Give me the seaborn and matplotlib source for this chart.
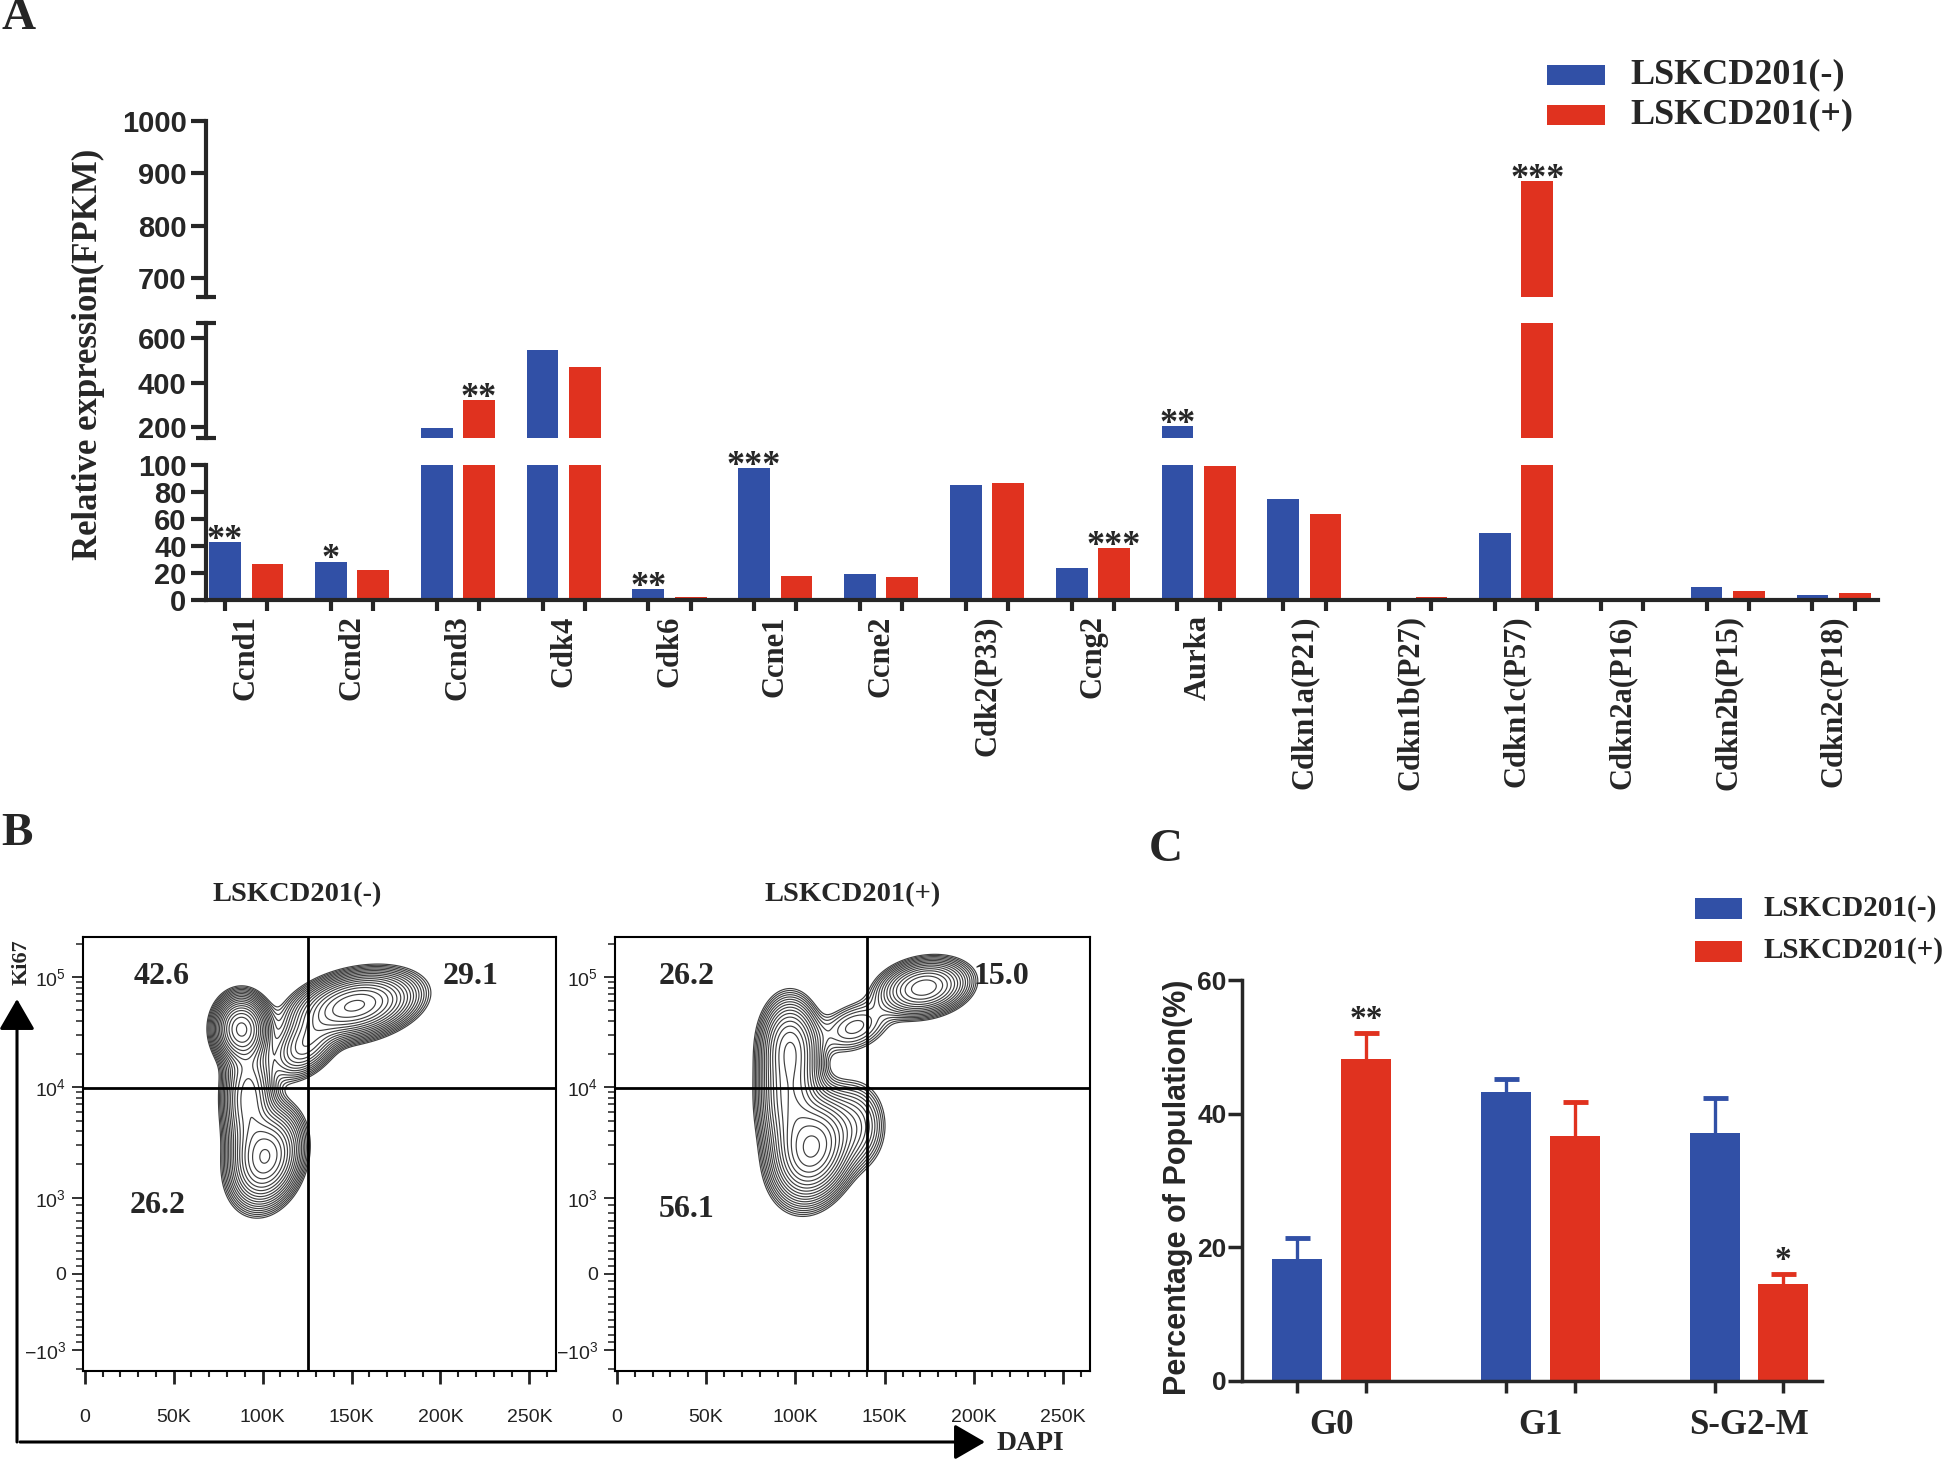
import numpy as np
import pandas as pd
import seaborn as sns
import matplotlib.pyplot as plt
from matplotlib.patches import Rectangle, ArrowStyle

W, H, DPI = 1946, 1459, 100
BLUE = "#3150A6"
RED = "#E0321F"
GROUPS = ["LSKCD201(-)", "LSKCD201(+)"]

# ---- panel A: relative expression (FPKM) ----
GENES = ["Ccnd1", "Ccnd2", "Ccnd3", "Cdk4", "Cdk6", "Ccne1", "Ccne2", "Cdk2(P33)",
         "Ccng2", "Aurka", "Cdkn1a(P21)", "Cdkn1b(P27)", "Cdkn1c(P57)",
         "Cdkn2a(P16)", "Cdkn2b(P15)", "Cdkn2c(P18)"]
FPKM_NEG = [43, 28.5, 193, 547, 8, 97.5, 19.5, 85, 23.5, 203, 74.5, 1.5, 50, 0.3, 10, 3.5]
FPKM_POS = [27, 22, 321, 472, 2, 17.5, 17, 86.5, 38.5, 99, 64, 2, 885, 0.6, 7, 5.5]
STAR_GENE = ["Ccnd1", "Ccnd2", "Ccnd3", "Cdk6", "Ccne1", "Ccng2", "Aurka", "Cdkn1c(P57)"]
STAR_GROUP = [0, 0, 1, 0, 0, 1, 0, 1]
STAR_TEXT = ["**", "*", "**", "**", "***", "***", "**", "***"]
# broken y axis: (low, high) of each segment, bottom to top
SEGMENTS = [(0, 100), (150.2, 668), (665, 1000)]
SEG_TICKS = [[0, 20, 40, 60, 80, 100], [200, 400, 600], [700, 800, 900, 1000]]

# ---- panel B: flow cytometry (DAPI vs Ki67) ----
QUAD_NEG = ["42.6", "29.1", "26.2"]
QUAD_POS = ["26.2", "15.0", "56.1"]
GATE_DAPI = [125.3, 140.0]      # K
GATE_KI67 = [9800, 9800]
# contour populations: centre DAPI (K), centre Ki67, spread DAPI (K), spread Ki67 (decades), tilt, weight
NEG_DAPI = [88, 152, 102, 92, 124]
NEG_KI67 = [34000, 55000, 2300, 8000, 24000]
NEG_SD_DAPI = [7.5, 17, 10, 7.5, 10]
NEG_SD_KI67 = [0.15, 0.15, 0.22, 0.30, 0.16]
NEG_TILT = [0.0, 0.3, 0.2, 0.0, 0.4]
NEG_WEIGHT = [1.0, 0.85, 0.8, 0.45, 0.3]

POS_DAPI = [172, 110, 97, 97, 133, 135]
POS_KI67 = [80000, 2800, 25000, 8000, 35000, 4500]
POS_SD_DAPI = [13, 11, 8.5, 9, 12, 9]
POS_SD_KI67 = [0.13, 0.24, 0.22, 0.30, 0.14, 0.22]
POS_TILT = [0.2, 0.2, 0.0, 0.0, 0.3, 0.0]
POS_WEIGHT = [0.55, 1.0, 0.45, 0.5, 0.12, 0.15]

DAPI_TICKS = [0, 50, 100, 150, 200, 250]
DAPI_LABELS = ["0", "50K", "100K", "150K", "200K", "250K"]
KI67_TICKS = [-1000, 0, 1000, 10000, 100000]
KI67_LABELS = [r"$-10^{3}$", "0", r"$10^{3}$", r"$10^{4}$", r"$10^{5}$"]

# ---- panel C: cell cycle phases ----
PHASES = ["G0", "G1", "S-G2-M"]
PCT_NEG = [18.3, 43.2, 37.1]
PCT_NEG_SEM = [3.1, 2.0, 5.2]
PCT_POS = [48.2, 36.7, 14.5]
PCT_POS_SEM = [3.8, 5.1, 1.5]
C_STAR_PHASE = ["G0", "S-G2-M"]
C_STAR_TEXT = ["**", "*"]

sns.set_style("ticks")
plt.rcParams["font.family"] = ["Liberation Sans", "DejaVu Sans"]
plt.rcParams["mathtext.default"] = "regular"
SERIF = ["Liberation Serif", "DejaVu Serif"]


def px_rect(x0, y0, x1, y1):
    return [x0 / W, 1 - y1 / H, (x1 - x0) / W, (y1 - y0) / H]


LIN = 0.69  # width of the linear part of the biexponential axis, in decades


def to_u(v):
    v = np.asarray(v, dtype=float)
    a = np.abs(v)
    out = np.where(a <= 1000, LIN * a / 1000, LIN + np.log10(np.maximum(a, 1e-9) / 1000))
    return np.sign(v) * out


fig = plt.figure(figsize=(W / DPI, H / DPI), dpi=DPI)

# ================= panel A =================
df_a = pd.DataFrame({
    "gene": GENES * 2,
    "group": [GROUPS[0]] * len(GENES) + [GROUPS[1]] * len(GENES),
    "fpkm": FPKM_NEG + FPKM_POS,
})
seg_px = [(465, 600), (323.3, 437.7), (120.7, 296.7)]
axes_a = []
for (lo, hi), (ytop, ybot), ticks in zip(SEGMENTS, seg_px, SEG_TICKS):
    ax = fig.add_axes(px_rect(206, ytop, 1878, ybot))
    sns.barplot(data=df_a, x="gene", y="fpkm", hue="group", hue_order=GROUPS,
                palette=[BLUE, RED], saturation=1, width=0.8, gap=0.25,
                errorbar=None, legend=False, linewidth=0, ax=ax)
    ax.set_xlim(-0.38, len(GENES) - 0.58)
    ax.set_ylim(lo, hi)
    ax.set_xlabel("")
    ax.set_ylabel("")
    ax.set_yticks(ticks)
    ax.set_yticks([t for t in (lo, hi) if t not in (0, 1000)], minor=True)
    ax.tick_params(axis="y", which="major", length=11, width=3, direction="out",
                   labelsize=21, pad=3)
    ax.tick_params(axis="y", which="minor", length=14, width=3, direction="inout")
    for lbl in ax.get_yticklabels():
        lbl.set_fontweight("bold")
    ax.spines["left"].set_linewidth(3)
    sns.despine(ax=ax, bottom=(lo > 0))
    axes_a.append(ax)

ax_bot = axes_a[0]
for ax in axes_a[1:]:
    ax.tick_params(axis="x", which="both", bottom=False, labelbottom=False)
bar_pos = sorted([i - 0.2 for i in range(len(GENES))] + [i + 0.2 for i in range(len(GENES))])
ax_bot.set_xticks(bar_pos, labels=[""] * len(bar_pos))
ax_bot.set_xticks(range(len(GENES)), labels=GENES, minor=True)
ax_bot.tick_params(axis="x", which="major", length=8, width=3, direction="out")
ax_bot.tick_params(axis="x", which="minor", length=0, pad=11, labelsize=22, labelrotation=90)
for lbl in ax_bot.get_xticklabels(minor=True):
    lbl.set_fontfamily(SERIF)
    lbl.set_fontweight("bold")
ax_bot.spines["bottom"].set_linewidth(3)

for gene, grp, txt in zip(STAR_GENE, STAR_GROUP, STAR_TEXT):
    i = GENES.index(gene)
    val = (FPKM_NEG if grp == 0 else FPKM_POS)[i]
    x = i - 0.2 + 0.4 * grp
    ax = axes_a[0] if val <= 100 else (axes_a[1] if val <= 668 else axes_a[2])
    ax.annotate(txt, (x, val), xytext=(0, -5), textcoords="offset points",
                ha="center", va="baseline", fontsize=26, fontweight="bold",
                family=SERIF, annotation_clip=False)

# ================= panel B =================
xg = np.linspace(-1, 265, 500)
ug = np.linspace(-0.9, 3.1, 500)
XG, UG = np.meshgrid(xg, ug)


def density(cx, cy, sx, sy, tilt, weight):
    z = np.zeros_like(XG)
    for mx, my, dx, dy, r, w in zip(cx, to_u(cy), sx, sy, tilt, weight):
        a = (XG - mx) / dx
        b = (UG - my) / dy
        z += w * np.exp(-(a * a - 2 * r * a * b + b * b) / (2 * (1 - r * r)))
    return z


flow_sets = [
    (px_rect(83, 937, 556, 1371), QUAD_NEG,
     (NEG_DAPI, NEG_KI67, NEG_SD_DAPI, NEG_SD_KI67, NEG_TILT, NEG_WEIGHT),
     [(0.166, 0.908), (0.82, 0.908), (0.158, 0.381)]),
    (px_rect(615, 937, 1090, 1371), QUAD_POS,
     (POS_DAPI, POS_KI67, POS_SD_DAPI, POS_SD_KI67, POS_TILT, POS_WEIGHT),
     [(0.15, 0.908), (0.813, 0.908), (0.15, 0.372)]),
]
ki67_minor = ([k * 100 for k in range(-9, 10) if k != 0] + [-1500]
              + [k * 1000 for k in range(2, 10)] + [k * 10000 for k in range(2, 10)]
              + [200000])
for j, (rect, quads, pops, qpos) in enumerate(flow_sets):
    ax = fig.add_axes(rect)
    z = density(*pops)
    levels = z.max() * np.geomspace(0.035, 0.93, 19)
    ax.contour(XG, UG, z, levels=levels, colors="#404040", linewidths=0.85)
    ax.axvline(GATE_DAPI[j], color="black", lw=2)
    ax.axhline(float(to_u(GATE_KI67[j])), color="black", lw=2)
    ax.set_xlim(-1, 265)
    ax.set_ylim(float(to_u(-1550)), float(to_u(230000)))
    ax.set_xticks(DAPI_TICKS, labels=DAPI_LABELS)
    ax.set_xticks(np.arange(10, 270, 10), minor=True)
    ax.set_yticks(to_u(KI67_TICKS), labels=KI67_LABELS)
    ax.set_yticks(to_u(ki67_minor), minor=True)
    ax.tick_params(axis="x", which="major", length=9, width=2, labelsize=14, pad=18,
                   colors="#222222")
    ax.tick_params(axis="x", which="minor", length=4.5, width=1.5, colors="#222222")
    ax.tick_params(axis="y", which="major", length=8, width=1.3, labelsize=14, pad=4,
                   colors="#222222")
    ax.tick_params(axis="y", which="minor", length=5, width=1.1, colors="#222222")
    for s in ax.spines.values():
        s.set_linewidth(1.5)
        s.set_color("black")
    for txt, (qx, qy) in zip(quads, qpos):
        ax.text(qx, qy, txt, transform=ax.transAxes, ha="center", va="center",
                fontsize=23, fontweight="bold", family=SERIF)

# ================= panel C =================
df_c = pd.DataFrame({
    "phase": PHASES * 2,
    "group": [GROUPS[0]] * 3 + [GROUPS[1]] * 3,
    "pct": PCT_NEG + PCT_POS,
})
ax_c = fig.add_axes(px_rect(1242, 980, 1822, 1381))
sns.barplot(data=df_c, x="phase", y="pct", hue="group", hue_order=GROUPS,
            palette=[BLUE, RED], saturation=1, width=0.66, gap=0.2727,
            errorbar=None, legend=False, linewidth=0, ax=ax_c)
for cont, col, vals, sem in zip(ax_c.containers, [BLUE, RED], [PCT_NEG, PCT_POS],
                                [PCT_NEG_SEM, PCT_POS_SEM]):
    xs = [b.get_x() + b.get_width() / 2 for b in cont]
    _, caps, _ = ax_c.errorbar(xs, vals, yerr=[np.zeros(len(sem)), sem], fmt="none",
                               ecolor=col, elinewidth=2.4, capsize=9, capthick=3.5,
                               zorder=0.5)
    caps[0].set_visible(False)
for ph, txt in zip(C_STAR_PHASE, C_STAR_TEXT):
    i = PHASES.index(ph)
    ax_c.annotate(txt, (i + 0.165, PCT_POS[i] + PCT_POS_SEM[i]), xytext=(0, 4),
                  textcoords="offset points", ha="center", va="baseline",
                  fontsize=24, fontweight="bold", family=SERIF)
ax_c.set_xlim(-0.43, 2.35)
ax_c.set_ylim(0, 60)
ax_c.set_xlabel("")
ax_c.set_ylabel("")
ax_c.set_yticks([0, 20, 40, 60])
ax_c.set_xticks([i + d for i in range(3) for d in (-0.165, 0.165)], labels=[""] * 6)
ax_c.set_xticks(range(3), labels=PHASES, minor=True)
ax_c.tick_params(axis="y", length=10, width=2.5, labelsize=19, pad=1)
ax_c.tick_params(axis="x", which="major", length=8.5, width=2.5)
ax_c.tick_params(axis="x", which="minor", length=0, pad=20, labelsize=25)
for lbl in ax_c.get_yticklabels():
    lbl.set_fontweight("bold")
for lbl in ax_c.get_xticklabels(minor=True):
    lbl.set_fontfamily(SERIF)
    lbl.set_fontweight("bold")
sns.despine(ax=ax_c)
for s in ("left", "bottom"):
    ax_c.spines[s].set_linewidth(2.5)

# ================= overlay: letters, labels, legends, arrows =================
ov = fig.add_axes([0, 0, 1, 1])
ov.set_xlim(0, W)
ov.set_ylim(H, 0)
ov.axis("off")

for letter, (lx, ly) in zip("ABC", [(19, 18), (17, 834), (1166, 850)]):
    ov.text(lx, ly, letter, ha="center", va="center", fontsize=34,
            fontweight="bold", family=SERIF)

ov.text(88, 354, "Relative expression(FPKM)", rotation=90, ha="center", va="center",
        fontsize=25, fontweight="bold", family=SERIF)
ov.text(1178, 1187, "Percentage of Population(%)", rotation=90, ha="center",
        va="center", fontsize=22, fontweight="bold")

for (bx, by, bw, bh, tx, fs), rows in [((1547, 65, 58, 20, 1630, 26), [0, 39.5]),
                                        ((1695, 898, 47, 21, 1763, 21), [0, 42.5])]:
    for k, dy in enumerate(rows):
        ov.add_patch(Rectangle((bx, by + dy), bw, bh, color=[BLUE, RED][k], lw=0))
        ov.text(tx, by + dy + bh / 2, GROUPS[k], ha="left", va="center",
                fontsize=fs, fontweight="bold", family=SERIF)

for title, cx in zip(GROUPS, [297, 853]):
    ov.text(cx, 895, title, ha="center", va="center", fontsize=20.5,
            fontweight="bold", family=SERIF)

head = ArrowStyle("-|>", head_length=1.9, head_width=1.1)
ov.annotate("", xy=(17, 999), xytext=(17, 1442),
            arrowprops=dict(arrowstyle=head, lw=2.2, color="black",
                            mutation_scale=10, shrinkA=0, shrinkB=0))
ov.annotate("", xy=(985, 1442), xytext=(20, 1442),
            arrowprops=dict(arrowstyle=head, lw=2.2, color="black",
                            mutation_scale=10, shrinkA=0, shrinkB=0))
ov.text(22, 962, "Ki67", rotation=90, ha="center", va="center", fontsize=16,
        fontweight="bold", family=SERIF)
ov.text(997, 1443, "DAPI", ha="left", va="center", fontsize=20,
        fontweight="bold", family=SERIF)

fig.savefig("out.png", dpi=DPI)
